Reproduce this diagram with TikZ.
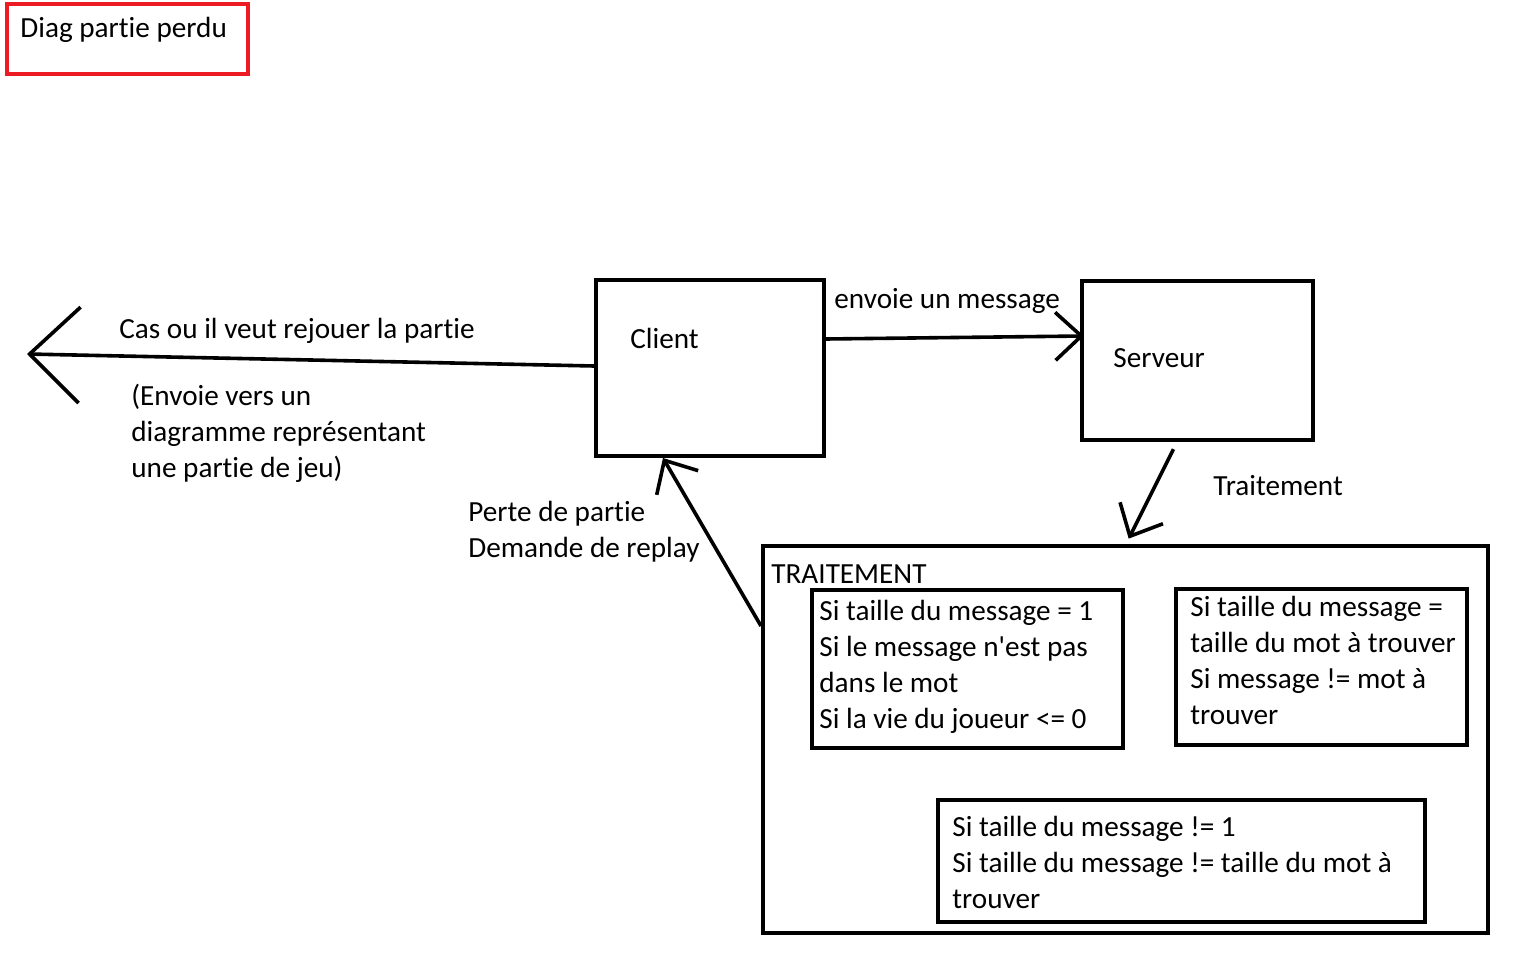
\documentclass[tikz,border=0pt]{standalone}
\usepackage{fontspec}
\setmainfont{Carlito}[Ligatures={TeXOff,NoCommon}]
\usetikzlibrary{arrows.meta}
\definecolor{rougepaint}{RGB}{237,28,36}
\tikzset{
  boite/.style={draw, line width=2pt, inner sep=0pt},
  texte/.style={anchor=west, inner sep=0pt, align=left, font=\fontsize{14.6}{18}\selectfont},
  fleche/.style={line width=1.8pt, -{Straight Barb[length=13pt, width=24pt, line width=1.8pt]}},
}
\begin{document}
\begin{tikzpicture}[x=0.5pt, y=-0.5pt]
\useasboundingbox (0,0) rectangle (1518,956);

% les boites
\node[boite, draw=rougepaint, minimum width=120.5pt, minimum height=35pt] (titre) at (127.5,39) {};
\node[boite, minimum width=114pt, minimum height=88pt] (client) at (710,368) {};
\node[boite, minimum width=115.5pt, minimum height=79.5pt] (serveur) at (1197.5,360.5) {};
\node[boite, minimum width=362.5pt, minimum height=193.5pt] (traitement) at (1125.5,739.5) {};
\node[boite, minimum width=155.5pt, minimum height=79pt] (cond1) at (967.5,669) {};
\node[boite, minimum width=145.5pt, minimum height=78pt] (cond2) at (1321.5,667) {};
\node[boite, minimum width=243.5pt, minimum height=61pt] (cond3) at (1181.5,861) {};

% les fleches
\coordinate (rejouer) at (27,354);
\draw[fleche, -{Straight Barb[length=25pt, width=48pt, line width=1.8pt]}] (client.west |- 0,366) -- (rejouer);
\draw[fleche] (client.east |- 0,339) -- ([xshift=2pt]serveur.west |- 0,336);
\draw[fleche, shorten <=4pt, shorten >=3pt] (serveur.south -| 1177,0) -- (traitement.north -| 1126,0);
\draw[fleche] (traitement.west |- 0,626) -- (client.south -| 663,0);

% les textes
\node[texte] (tdiag) at (20,30) {Diag partie perdu};
\node[texte] (tclient) at (630,338) {Client};
\node[texte] (tserveur) at (1113,358) {Serveur};
\node[texte] (tcas) at (119,331) {Cas ou il veut rejouer la partie};
\node[texte] (tenvoie) at (131,433) {(Envoie vers un\\diagramme représentant\\une partie de jeu)};
\node[texte] (tmessage) at (834,301) {envoie un message};
\node[texte] (ttraitement) at (1213,486) {Traitement};
\node[texte] (tperte) at (468,532) {Perte de partie\\Demande de replay};
\node[texte] (tmaj) at (771,574) {TRAITEMENT};
\node[texte] (tcond1) at (819,667) {Si taille du message = 1\\Si le message n'est pas\\dans le mot\\Si la vie du joueur <= 0};
\node[texte] (tcond2) at (1190,660) {Si taille du message =\\taille du mot à trouver\\Si message != mot à\\trouver};
\node[texte] (tcond3) at (952,862) {Si taille du message != 1\\Si taille du message != taille du mot à\\trouver};
\end{tikzpicture}
\end{document}
